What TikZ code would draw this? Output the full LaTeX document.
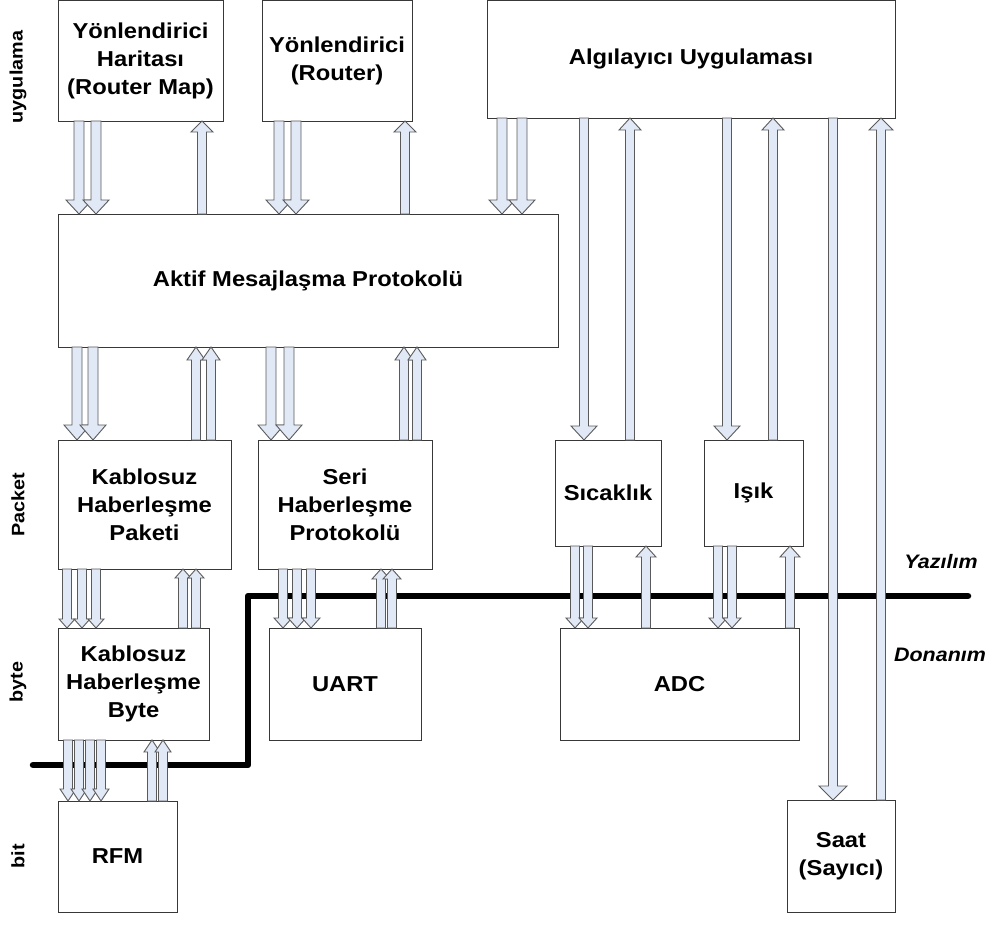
\documentclass[tikz,border=0pt]{standalone}
\usepackage{fontspec}
\setmainfont{Liberation Sans}[FakeStretch=1.1]
\usetikzlibrary{calc}
\definecolor{arrowfill}{HTML}{E1E9F6}
\definecolor{arrowline}{HTML}{5A5A5A}
\definecolor{boxline}{HTML}{383838}
\tikzset{
  box/.style={draw=boxline, line width=1pt, fill=white, inner sep=0pt, outer sep=0pt,
    align=center, font=\bfseries\fontsize{21.6}{28}\selectfont},
  blockarrow/.style={draw=arrowline, fill=arrowfill, line width=0.9pt, line join=miter},
  layer/.style={rotate=90, font=\bfseries\fontsize{18}{22}\selectfont},
  boundary/.style={line width=6.5pt, line cap=round, line join=round},
  side/.style={font=\bfseries\itshape\fontsize{19.5}{22}\selectfont}
}
% box from its corners: name, x1, y1, x2, y2, text
\newcommand\blockbox[6]{%
  \node[box, minimum width={(#4-#2)*1pt}, minimum height={(#5-#3)*1pt}]
    (#1) at ({(#2+#4)/2},{(#3+#5)/2}) {#6};}
% hollow block arrow at abscissa #1 from the edge #2 to the edge #3;
% #4 half shaft width, #5 half head width, #6 head length
\newcommand\flow[6]{%
  \draw[blockarrow] let \p1=(#1,0 |- #2), \p2=(#1,0 |- #3),
      \p3=($(\p2)!#6pt!(\p1)$) in
    ({\x1-#4pt},\y1) -- ({\x1-#4pt},\y3) -- ({\x1-#5pt},\y3) -- (\x1,\y2)
    -- ({\x1+#5pt},\y3) -- ({\x1+#4pt},\y3) -- ({\x1+#4pt},\y1) -- cycle;}
\begin{document}
\begin{tikzpicture}[x=1pt, y=-1pt]
\useasboundingbox (0,0) rectangle (1002,926);

% software blocks
\blockbox{rm}{58}{0.5}{223}{121}{Yönlendirici\\Haritası\\(Router Map)}
\blockbox{rt}{262}{0.5}{412}{121}{Yönlendirici\\(Router)}
\blockbox{alg}{487}{0.5}{895}{118}{Algılayıcı Uygulaması}
\blockbox{amp}{58}{214}{558}{347}{Aktif Mesajlaşma Protokolü}
\blockbox{kp}{58}{440}{231}{569}{Kablosuz\\Haberleşme\\Paketi}
\blockbox{seri}{258}{440}{432}{569}{Seri\\Haberleşme\\Protokolü}
\blockbox{sic}{555}{440}{661}{546}{Sıcaklık}
\blockbox{isik}{704}{440}{803}{546}{Işık}
\blockbox{kb}{58}{628}{209}{740}{Kablosuz\\Haberleşme\\Byte}
% hardware blocks
\blockbox{uart}{269}{628}{421}{740}{UART}
\blockbox{adc}{560}{628}{799}{740}{ADC}
\blockbox{rfm}{58}{801}{177}{912}{RFM}
\blockbox{saat}{787}{800}{895}{912}{Saat\\(Sayıcı)}

% layer names
\node[layer] (lapp) at (18,77) {uygulama};
\node[layer] (lpkt) at (18,505) {Packet};
\node[layer] (lbyte) at (18,682) {byte};
\node[layer] (lbit) at (18,856) {bit};

% software / hardware boundary
\coordinate (b1) at (33,765);
\coordinate (b2) at (248,765);
\coordinate (b3) at (248,596);
\coordinate (b4) at (968,596);
\draw[boundary] (b1) -- (b2) -- (b3) -- (b4);
\node[side] (sw) at (941,562) {Yazılım};
\node[side] (hw) at (940,655) {Donanım};

% application level <-> active messages
\flow{79}{rm.south}{amp.north}{5}{13}{14}
\flow{96}{rm.south}{amp.north}{5}{13}{14}
\flow{202}{amp.north}{rm.south}{4.5}{11}{11}
\flow{279}{rt.south}{amp.north}{5}{13}{14}
\flow{296}{rt.south}{amp.north}{5}{13}{14}
\flow{405}{amp.north}{rt.south}{4.5}{11}{11}
\flow{502}{alg.south}{amp.north}{5}{13}{14}
\flow{522}{alg.south}{amp.north}{5}{13}{14}

% application <-> sensors and clock
\flow{584}{alg.south}{sic.north}{4.5}{13}{14}
\flow{630}{sic.north}{alg.south}{4.5}{11}{12}
\flow{727}{alg.south}{isik.north}{4.5}{13}{14}
\flow{773}{isik.north}{alg.south}{4.5}{11}{12}
\flow{833}{alg.south}{saat.north}{4.5}{14}{14}
\flow{881}{saat.north}{alg.south}{4.5}{12}{12}

% active messages <-> packet level
\flow{77}{amp.south}{kp.north}{5}{13}{15}
\flow{93}{amp.south}{kp.north}{5}{13}{15}
\flow{196}{kp.north}{amp.south}{4.5}{9}{13}
\flow{211}{kp.north}{amp.south}{4.5}{9}{13}
\flow{271}{amp.south}{seri.north}{5}{13}{15}
\flow{289}{amp.south}{seri.north}{5}{13}{15}
\flow{404}{seri.north}{amp.south}{4.5}{9}{13}
\flow{417}{seri.north}{amp.south}{4.5}{9}{13}

% packet level <-> byte level
\flow{67}{kp.south}{kb.north}{4.5}{8}{9}
\flow{82}{kp.south}{kb.north}{4.5}{8}{9}
\flow{96}{kp.south}{kb.north}{4.5}{8}{9}
\flow{183}{kb.north}{kp.south}{4.5}{8}{9}
\flow{196}{kb.north}{kp.south}{4.5}{8}{9}
\flow{283}{seri.south}{uart.north}{4.5}{9}{10}
\flow{297}{seri.south}{uart.north}{4.5}{9}{10}
\flow{311}{seri.south}{uart.north}{4.5}{9}{10}
\flow{381}{uart.north}{seri.south}{4.5}{9}{10}
\flow{392}{uart.north}{seri.south}{4.5}{9}{10}
\flow{575}{sic.south}{adc.north}{4.5}{9}{10}
\flow{588}{sic.south}{adc.north}{4.5}{9}{10}
\flow{646}{adc.north}{sic.south}{4.5}{10}{11}
\flow{718}{isik.south}{adc.north}{4.5}{9}{10}
\flow{732}{isik.south}{adc.north}{4.5}{9}{10}
\flow{790}{adc.north}{isik.south}{4.5}{10}{11}

% byte level <-> radio
\flow{68}{kb.south}{rfm.north}{4.5}{8}{12}
\flow{79}{kb.south}{rfm.north}{4.5}{8}{12}
\flow{90}{kb.south}{rfm.north}{4.5}{8}{12}
\flow{101}{kb.south}{rfm.north}{4.5}{8}{12}
\flow{152}{rfm.north}{kb.south}{4.5}{8}{12}
\flow{163}{rfm.north}{kb.south}{4.5}{8}{12}
\end{tikzpicture}
\end{document}
